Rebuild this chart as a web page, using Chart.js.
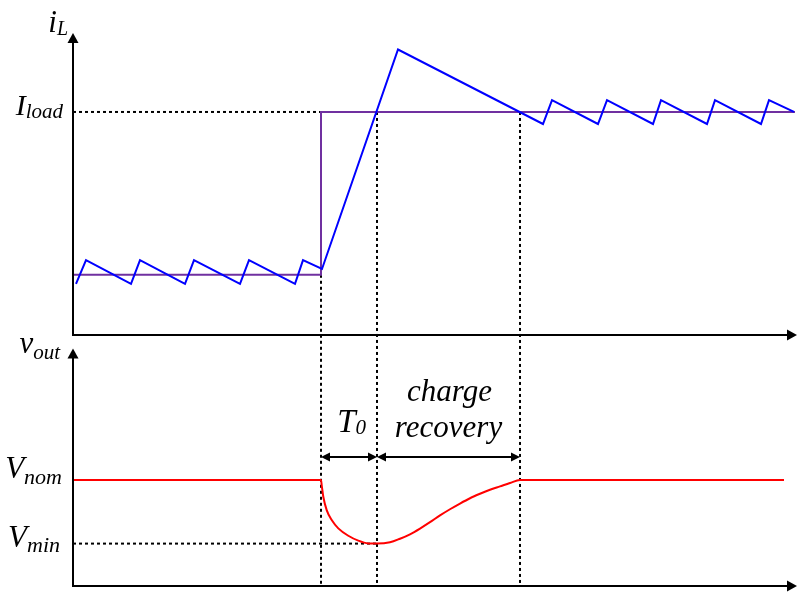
<!DOCTYPE html>
<html>
<head>
<meta charset="utf-8">
<script src="https://cdn.jsdelivr.net/npm/chart.js@4/dist/chart.umd.min.js"></script>
<style>
  body { margin: 0; background: #fff; }
  canvas { display: block; }
</style>
</head>
<body>
<canvas id="myChart" width="798" height="612"></canvas>
<script>
// inductor current ripple before and after the load step (time in arbitrary units)
const tRipple = [0.3, 1.3, 5.8, 6.7, 11.2, 12.1, 16.7, 17.6, 22.2, 23.0, 24.9,
                 32.5, 47.0, 47.9, 52.5, 53.4, 58.0, 58.8, 63.4, 64.2, 68.8, 69.6, 72.1];
const iRipple = [2.29, 3.36, 2.29, 3.36, 2.29, 3.36, 2.29, 3.36, 2.29, 3.36, 2.96,
                 12.8, 9.46, 10.53, 9.46, 10.53, 9.46, 10.53, 9.46, 10.53, 9.46, 10.53, 10.0];

// load current step
const tLoad = [0, 24.8, 24.8, 72.2];
const iLoad = [2.7, 2.7, 10, 10];

// output voltage dip and recovery
const tOut = [0, 24.8, 24.87, 25.03, 25.37, 25.87, 26.53, 27.53, 28.53, 29.53, 30.4,
              31.7, 32.7, 33.7, 34.7, 35.7, 36.7, 37.7, 38.7, 39.7, 40.7, 41.7, 42.7, 43.7, 44.7, 71.1];
const vOut = [5, 5, 4.76, 4.21, 3.58, 3.11, 2.72, 2.37, 2.14, 2.01, 2.0,
              2.06, 2.23, 2.44, 2.71, 3.01, 3.33, 3.62, 3.89, 4.14, 4.35, 4.54, 4.70, 4.86, 5, 5];

const I_LOAD = 10, I_START = 2.7;
const V_NOM = 5, V_MIN = 2, V_AXIS_TOP = 11.2;
const T_STEP = 24.8, T_MIN = 30.4, T_REC = 44.7, V_ARROWS = 6.08;

const xy = (xs, ys) => xs.map((x, i) => ({ x: x, y: ys[i] }));

const SERIF = '"Liberation Serif", "Times New Roman", serif';

function arrowHead(ctx, x, y, dx, dy, len, half) {
  // tip at (x, y), pointing along (dx, dy)
  ctx.beginPath();
  ctx.moveTo(x, y);
  ctx.lineTo(x - dx * len - dy * half, y - dy * len + dx * half);
  ctx.lineTo(x - dx * len + dy * half, y - dy * len - dx * half);
  ctx.closePath();
  ctx.fill();
}

function line(ctx, x1, y1, x2, y2) {
  ctx.beginPath();
  ctx.moveTo(x1, y1);
  ctx.lineTo(x2, y2);
  ctx.stroke();
}

// italic symbol with a subscript, right-aligned at rx
function subLabel(ctx, main, sub, rx, base, mainPx, subPx, drop) {
  ctx.font = 'italic ' + mainPx + 'px ' + SERIF;
  const wm = ctx.measureText(main).width;
  ctx.font = 'italic ' + subPx + 'px ' + SERIF;
  const ws = ctx.measureText(sub).width;
  const x0 = rx - wm - ws;
  ctx.font = 'italic ' + mainPx + 'px ' + SERIF;
  ctx.fillText(main, x0, base);
  ctx.font = 'italic ' + subPx + 'px ' + SERIF;
  ctx.fillText(sub, x0 + wm, base + drop);
}

const overlay = {
  id: 'overlay',
  beforeDatasetsDraw(chart) {
    const ctx = chart.ctx;
    const x = chart.scales.x, yi = chart.scales.iL, yv = chart.scales.v;
    ctx.save();
    ctx.strokeStyle = '#000';
    ctx.lineWidth = 2;
    ctx.setLineDash([3, 3]);
    const bottom = yv.getPixelForValue(0);
    line(ctx, x.getPixelForValue(T_STEP), yi.getPixelForValue(I_START), x.getPixelForValue(T_STEP), bottom);
    line(ctx, x.getPixelForValue(T_MIN), yi.getPixelForValue(I_LOAD), x.getPixelForValue(T_MIN), bottom);
    line(ctx, x.getPixelForValue(T_REC), yi.getPixelForValue(I_LOAD), x.getPixelForValue(T_REC), bottom);
    ctx.restore();
  },
  afterDatasetsDraw(chart) {
    const ctx = chart.ctx;
    const area = chart.chartArea;
    const x = chart.scales.x, yi = chart.scales.iL, yv = chart.scales.v;
    const x0 = x.getPixelForValue(0);
    ctx.save();
    ctx.strokeStyle = '#000';
    ctx.fillStyle = '#000';
    ctx.lineWidth = 2;

    // axes with arrow heads
    const yTop0 = yi.getPixelForValue(0);
    const yBot0 = yv.getPixelForValue(0);
    line(ctx, x0, yTop0, x0, area.top + 8);
    arrowHead(ctx, x0, area.top, 0, -1, 10, 5.5);
    line(ctx, x0 - 1, yTop0, area.right - 8, yTop0);
    arrowHead(ctx, area.right, yTop0, 1, 0, 10, 5.5);
    const vTop = yv.getPixelForValue(V_AXIS_TOP);
    line(ctx, x0, yBot0, x0, vTop + 8);
    arrowHead(ctx, x0, vTop, 0, -1, 10, 5.5);
    line(ctx, x0 - 1, yBot0, area.right - 8, yBot0);
    arrowHead(ctx, area.right, yBot0, 1, 0, 10, 5.5);

    // interval arrows
    const ya = yv.getPixelForValue(V_ARROWS);
    const xs = x.getPixelForValue(T_STEP), xm = x.getPixelForValue(T_MIN), xr = x.getPixelForValue(T_REC);
    line(ctx, xs + 4, ya, xm - 4, ya);
    line(ctx, xm + 4, ya, xr - 4, ya);
    arrowHead(ctx, xs, ya, -1, 0, 9, 4.5);
    arrowHead(ctx, xm, ya, 1, 0, 9, 4.5);
    arrowHead(ctx, xm, ya, -1, 0, 9, 4.5);
    arrowHead(ctx, xr, ya, 1, 0, 9, 4.5);

    // labels
    ctx.textBaseline = 'alphabetic';
    ctx.textAlign = 'left';
    subLabel(ctx, 'i', 'L', 68, 32, 31, 20, 3);
    subLabel(ctx, 'I', 'load', 63, yi.getPixelForValue(I_LOAD) + 3, 30, 21, 3);
    subLabel(ctx, 'v', 'out', 60, 353, 31, 21, 6);
    subLabel(ctx, 'V', 'nom', 62, yv.getPixelForValue(V_NOM) - 2, 31, 22, 6);
    subLabel(ctx, 'V', 'min', 60, yv.getPixelForValue(V_MIN) + 3, 31, 22, 5);
    subLabel(ctx, 'T', '0', 366, 432, 33, 21, 2);

    ctx.font = 'italic 31px ' + SERIF;
    ctx.textAlign = 'center';
    ctx.fillText('charge', (xm + xr) / 2 + 1, 401);
    ctx.fillText('recovery', (xm + xr) / 2, 437);
    ctx.restore();
  }
};

new Chart(document.getElementById('myChart'), {
  type: 'line',
  data: {
    datasets: [
      { data: xy(tRipple, iRipple), yAxisID: 'iL', borderColor: '#0000FF', borderWidth: 2, order: 0 },
      { data: xy(tLoad, iLoad), yAxisID: 'iL', borderColor: '#7030A0', borderWidth: 2, order: 1 },
      { data: xy([0, T_STEP], [I_LOAD, I_LOAD]), yAxisID: 'iL', borderColor: '#000', borderWidth: 2, borderDash: [3, 3], order: 2 },
      { data: xy(tOut, vOut), yAxisID: 'v', borderColor: '#FF0000', borderWidth: 2, cubicInterpolationMode: 'monotone', order: 0 },
      { data: xy([0, T_MIN], [V_MIN, V_MIN]), yAxisID: 'v', borderColor: '#000', borderWidth: 2, borderDash: [3, 3], order: 2 }
    ]
  },
  options: {
    responsive: false,
    animation: false,
    events: [],
    layout: { padding: { left: 73, right: 1, top: 33, bottom: 26 } },
    elements: { point: { radius: 0 }, line: { tension: 0, fill: false } },
    plugins: { legend: { display: false }, tooltip: { enabled: false } },
    scales: {
      x: { type: 'linear', min: 0, max: 72.4, display: false },
      iL: { type: 'linear', min: 0, max: 13.54, display: false, position: 'left', stack: 'panels', stackWeight: 302, weight: 2 },
      v: { type: 'linear', min: 0, max: 11.84, display: false, position: 'left', stack: 'panels', stackWeight: 251, weight: 1 }
    }
  },
  plugins: [overlay]
});
</script>
</body>
</html>
